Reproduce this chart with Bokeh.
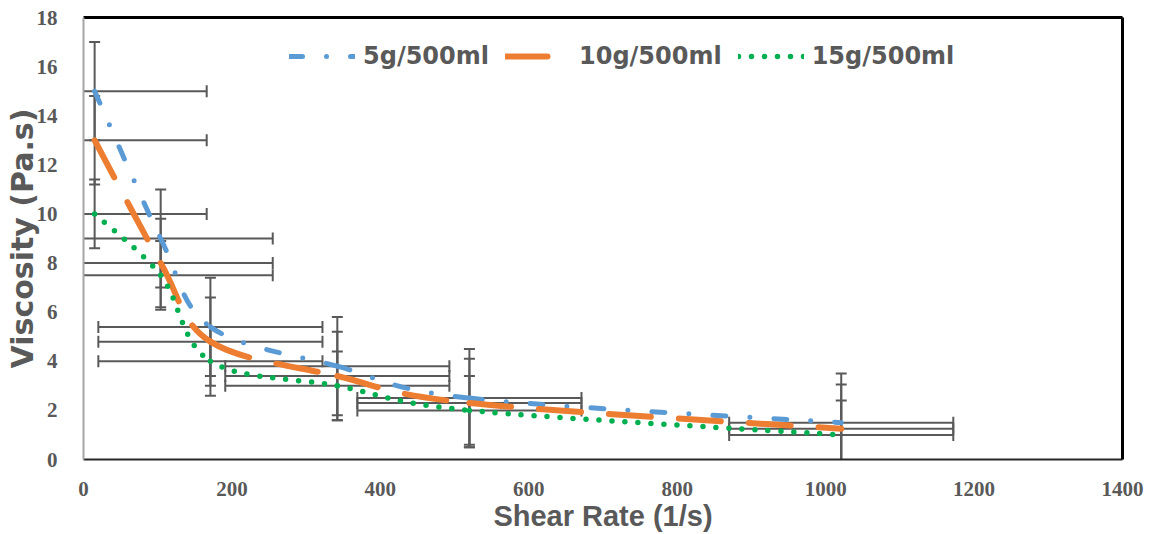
import numpy as np
from bokeh.plotting import figure
from bokeh.models import Range1d, LinearAxis, FixedTicker, Legend, LegendItem
from bokeh.embed import file_html
from bokeh.resources import INLINE

# ---------------- data ----------------
shear_rate = [15, 104, 171, 342, 520, 1021]
visc_5g = [15.0, 9.0, 5.4, 3.8, 2.5, 1.5]
visc_10g = [13.0, 8.0, 4.8, 3.4, 2.3, 1.25]
visc_15g = [10.0, 7.5, 4.0, 3.0, 2.0, 1.0]
yerr_5g = 2.0
yerr_10g = 1.8
yerr_15g = 1.4
xerr = 151
series_names = ["5g/500ml", "10g/500ml", "15g/500ml"]
x_ticks = [0, 200, 400, 600, 800, 1000, 1200, 1400]
y_ticks = [0, 2, 4, 6, 8, 10, 12, 14, 16, 18]
x_title = "Shear Rate (1/s)"
y_title = "Viscosity (Pa.s)"

# ---------------- styles ----------------
colors = ["#5B9BD5", "#ED7D31", "#00B050"]
widths = [5, 6, 5.5]
dashes = ["13 24 0 24", "42 28", "0 13"]
err_color = "#595959"
txt_color = "#595959"

p = figure(width=1150, height=534, x_range=Range1d(0, 1400), y_range=Range1d(0, 18),
           output_backend="svg", toolbar_location=None,
           min_border_left=83, min_border_right=28, min_border_top=17, min_border_bottom=74)
p.grid.visible = False
p.outline_line_color = None
p.background_fill_color = "white"
p.border_fill_color = "white"

# axes
p.xaxis.ticker = FixedTicker(ticks=x_ticks)
p.yaxis.ticker = FixedTicker(ticks=y_ticks)
for ax in (p.xaxis[0], p.yaxis[0]):
    ax.major_tick_line_color = None
    ax.minor_tick_line_color = None
    ax.major_label_text_font = "Liberation Serif"
    ax.major_label_text_font_style = "bold"
    ax.major_label_text_font_size = "21px"
    ax.major_label_text_color = txt_color
    ax.axis_label_text_color = txt_color
    ax.axis_label_text_font_style = "bold"
p.yaxis.axis_line_color = "#A6A6A6"
p.yaxis.axis_line_width = 2
p.xaxis.axis_line_color = "#262626"
p.xaxis.axis_line_width = 2
p.yaxis.major_label_standoff = 20
p.xaxis.major_label_standoff = 16
p.xaxis.axis_label = x_title
p.xaxis.axis_label_text_font = "Liberation Sans"
p.xaxis.axis_label_text_font_size = "29px"
p.xaxis.axis_label_standoff = 1
p.yaxis.axis_label = y_title
p.yaxis.axis_label_text_font = "DejaVu Sans"
p.yaxis.axis_label_text_font_size = "30px"
p.yaxis.axis_label_standoff = -6

for loc in ("right", "above"):
    bax = LinearAxis(ticker=FixedTicker(ticks=[]), axis_line_color="black", axis_line_width=3,
                     major_tick_line_color=None, minor_tick_line_color=None,
                     major_label_text_font_size="0px")
    p.add_layout(bax, loc)

xs = np.array(shear_rate, dtype=float)
series = [np.array(v, dtype=float) for v in (visc_5g, visc_10g, visc_15g)]
yerrs = [yerr_5g, yerr_10g, yerr_15g]

# error bars (drawn first, beneath the curves)
for ys, e in zip(series, yerrs):
    p.segment(x0=xs - xerr, y0=ys, x1=xs + xerr, y1=ys, line_color=err_color, line_width=2)
    p.segment(x0=xs, y0=ys - e, x1=xs, y1=ys + e, line_color=err_color, line_width=2)
    p.scatter(x=xs + xerr, y=ys, marker="dash", angle=np.pi / 2, size=12,
              line_color=err_color, line_width=2)
    p.scatter(x=xs - xerr, y=ys, marker="dash", angle=np.pi / 2, size=12,
              line_color=err_color, line_width=2)
    p.scatter(x=xs, y=ys + e, marker="dash", size=11, line_color=err_color, line_width=2)
    p.scatter(x=xs, y=ys - e, marker="dash", size=11, line_color=err_color, line_width=2)


def smooth_controls(x, y):
    pts = np.column_stack([x, y])
    prev = np.vstack([pts[0], pts[:-1]])
    nxt = np.vstack([pts[1:], pts[-1]])
    tang = (nxt - prev) / 6.0
    p0, p1 = pts[:-1], pts[1:]
    c0 = p0 + tang[:-1]
    c1 = p1 - tang[1:]
    return p0, p1, c0, c1


items = []
for ys, name, c, w, d in zip(series, series_names, colors, widths, dashes):
    p0, p1, c0, c1 = smooth_controls(xs, ys)
    r = p.bezier(x0=p0[:, 0], y0=p0[:, 1], x1=p1[:, 0], y1=p1[:, 1],
                 cx0=c0[:, 0], cy0=c0[:, 1], cx1=c1[:, 0], cy1=c1[:, 1],
                 line_color=c, line_width=w, line_dash=d, line_cap="round")
    items.append(LegendItem(label=name, renderers=[r]))

legend = Legend(items=items, orientation="horizontal", location=(206, 389),
                glyph_width=66, glyph_height=28, label_height=28, label_standoff=8,
                spacing=16, padding=0, margin=0, border_line_color=None,
                background_fill_alpha=0,
                label_text_font="DejaVu Sans", label_text_font_style="bold",
                label_text_font_size="24px", label_text_color=txt_color)
p.add_layout(legend)

open("out.html", "w").write(file_html(p, INLINE))
